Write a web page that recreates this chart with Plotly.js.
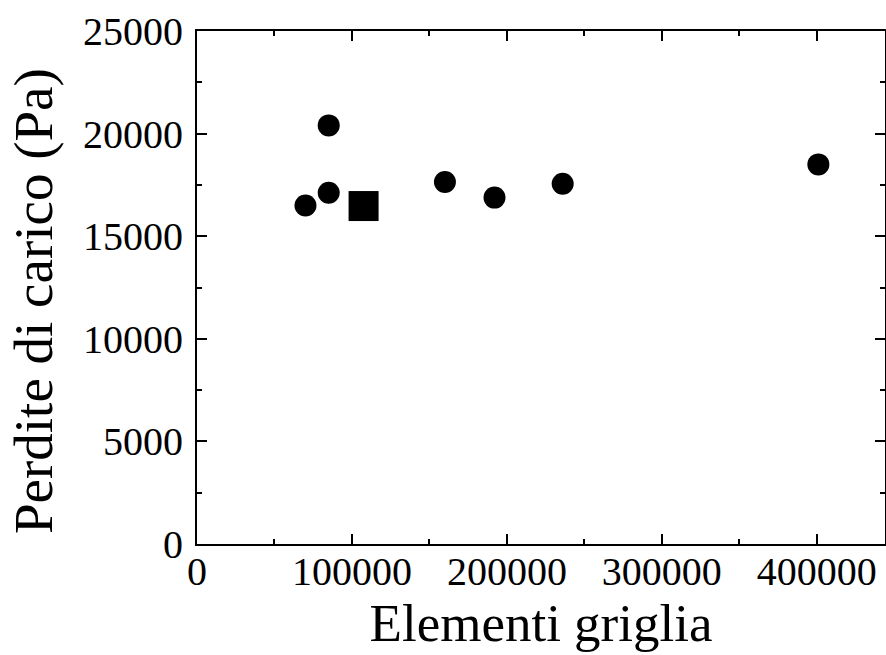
<!DOCTYPE html>
<html>
<head>
<meta charset="utf-8">
<script src="https://cdn.plot.ly/plotly-3.0.1.min.js"></script>
<style>html,body{margin:0;padding:0;background:#fff;}#chart{width:886px;height:655px;}</style>
</head>
<body>
<div id="chart"></div>
<script>
// Circles: simulations on different grids
const circleElements = [70000, 85000, 85000, 160000, 192000, 236000, 401000];
const circlePressureDrop = [16500, 20400, 17120, 17640, 16880, 17560, 18500];
// Square: chosen grid
const squareElements = [107500];
const squarePressureDrop = [16470];

const xTitle = 'Elementi griglia';
const yTitle = 'Perdite di carico (Pa)';

const serif = 'Liberation Serif, Times New Roman, serif';

const traces = [
  {
    x: circleElements, y: circlePressureDrop, type: 'scatter', mode: 'markers',
    marker: {symbol: 'circle', size: 22, color: '#000'}, showlegend: false, hoverinfo: 'x+y'
  },
  {
    x: squareElements, y: squarePressureDrop, type: 'scatter', mode: 'markers',
    marker: {symbol: 'square', size: 30, color: '#000'}, showlegend: false, hoverinfo: 'x+y'
  }
];

const axisCommon = {
  showline: true, linecolor: '#000', linewidth: 2, mirror: 'allticks',
  ticks: 'inside', ticklen: 10, tickwidth: 2, tickcolor: '#000',
  showgrid: false, zeroline: false, automargin: false,
  tickfont: {family: serif, size: 40, color: '#000'}
};

const layout = {
  width: 886, height: 655,
  margin: {l: 197, r: 1, t: 31, b: 111},
  paper_bgcolor: '#fff', plot_bgcolor: '#fff',
  font: {family: serif, color: '#000'},
  xaxis: Object.assign({}, axisCommon, {
    range: [0, 444000], dtick: 100000, tick0: 0, tickformat: 'd',
    ticklabelstandoff: -9,
    minor: {dtick: 50000, ticks: 'inside', ticklen: 5, tickwidth: 2, tickcolor: '#000', showgrid: false},
    title: {text: xTitle, font: {family: serif, size: 53, color: '#000'}, standoff: 10}
  }),
  yaxis: Object.assign({}, axisCommon, {
    range: [0, 25000], dtick: 5000, tick0: 0, tickformat: 'd',
    ticklabelstandoff: 4,
    minor: {dtick: 2500, ticks: 'inside', ticklen: 5, tickwidth: 2, tickcolor: '#000', showgrid: false}
  }),
  annotations: [{
    text: yTitle, textangle: -90, showarrow: false,
    xref: 'paper', yref: 'paper', x: (33 - 197) / 688, y: (544 - 301) / 513,
    xanchor: 'center', yanchor: 'middle',
    font: {family: serif, size: 55, color: '#000'}
  }]
};

Plotly.newPlot('chart', traces, layout, {displayModeBar: false, staticPlot: true});
</script>
</body>
</html>
